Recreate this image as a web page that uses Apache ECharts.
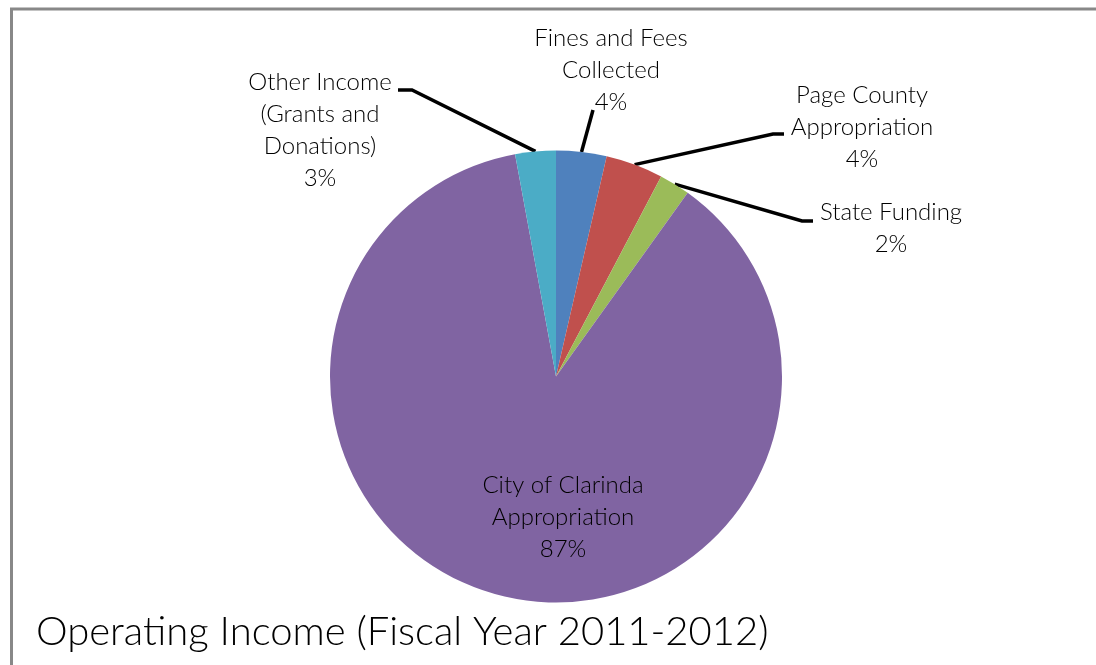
<!DOCTYPE html>
<html>
<head>
<meta charset="utf-8">
<script src="https://cdn.jsdelivr.net/npm/echarts@6/dist/echarts.min.js"></script>
<style>
html,body{margin:0;padding:0;background:#fff;}
#chart{width:1096px;height:665px;}
</style>
</head>
<body>
<div id="chart"></div>
<script>
// ---- data ----
const categories = [
  'Fines and Fees\nCollected',
  'Page County\nAppropriation',
  'State Funding',
  'City of Clarinda\nAppropriation',
  'Other Income\n(Grants and\nDonations)'
];
const values = [3.6, 4.1, 2.2, 87.2, 2.9];
const titleText = 'Operating Income (Fiscal Year 2011-2012)';

// ---- styling / layout ----
const palette = ['#4F81BD', '#C0504D', '#9BBB59', '#8064A2', '#4BACC6'];
const CX = 556, CY = 376.5, R = 226;
// label placement: label centre, leader bend and leader end (pixels)
const labelPlacement = [
  { label: [611, 70],  bend: [593, 110], end: [593, 110] },
  { label: [862, 127], bend: [773, 134], end: [784, 134] },
  { label: [891, 228], bend: [802, 221], end: [813, 221] },
  { label: [563, 517], bend: null, end: null },
  { label: [320, 130], bend: [412, 90],  end: [398, 90] }
];

const total = values.reduce((a, b) => a + b, 0);
function edgePoint(i) {
  let before = 0;
  for (let k = 0; k < i; k++) before += values[k];
  const midFrac = (before + values[i] / 2) / total;
  const ang = (90 - midFrac * 360) * Math.PI / 180;
  return [CX + R * Math.cos(ang), CY - R * Math.sin(ang)];
}

const chart = echarts.init(document.getElementById('chart'));
chart.setOption({
  animation: false,
  color: palette,
  title: {
    text: titleText,
    left: 31,
    top: 603,
    textStyle: { fontFamily: 'Lato', fontSize: 40, fontWeight: 300, color: '#000', lineHeight: 48 }
  },
  graphic: [{
    type: 'rect',
    shape: { x: 11.5, y: 9, width: 3000, height: 3000 },
    style: { fill: 'none', stroke: '#888', lineWidth: 3 },
    silent: true
  }],
  series: [{
    type: 'pie',
    center: [CX, CY],
    radius: R,
    startAngle: 90,
    clockwise: true,
    percentPrecision: 0,
    avoidLabelOverlap: false,
    minShowLabelAngle: 0,
    emphasis: { disabled: true },
    itemStyle: { borderWidth: 0 },
    label: {
      show: true,
      position: 'outside',
      formatter: '{b}\n{d}%',
      fontFamily: 'Lato',
      fontSize: 24,
      fontWeight: 300,
      lineHeight: 32,
      color: '#000',
      align: 'center'
    },
    labelLine: {
      show: true,
      smooth: false,
      lineStyle: { color: '#000', width: 3.5 }
    },
    labelLayout: function (params) {
      const i = params.dataIndex;
      const p = labelPlacement[i];
      const out = { x: p.label[0], y: p.label[1], align: 'center', verticalAlign: 'middle' };
      if (p.bend) {
        out.labelLinePoints = [edgePoint(i), p.bend, p.end];
      }
      return out;
    },
    data: categories.map((c, i) => {
      const d = { name: c, value: values[i] };
      if (i === 3) {
        d.label = { position: 'inside' };
        d.labelLine = { show: false };
      }
      return d;
    })
  }]
});
</script>
</body>
</html>
